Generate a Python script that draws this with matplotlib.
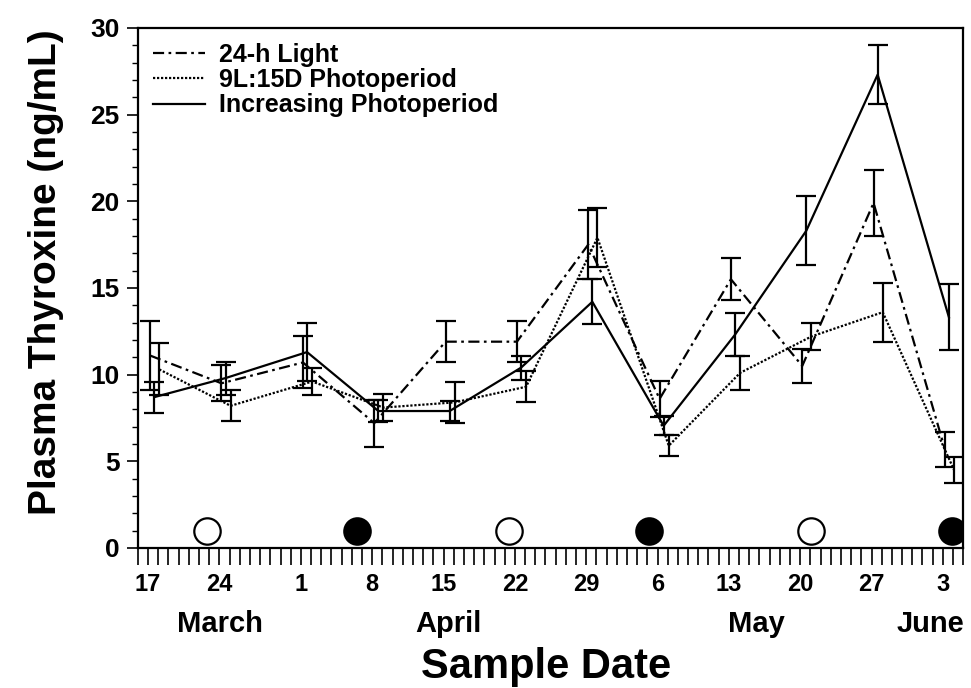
import numpy as np
import matplotlib
matplotlib.use("Agg")
import matplotlib.pyplot as plt
from matplotlib.ticker import MultipleLocator, FixedLocator
from matplotlib.transforms import blended_transform_factory

plt.rcParams['font.family'] = ['Liberation Sans', 'DejaVu Sans']
plt.rcParams['font.weight'] = 'bold'

# sample days counted from 17 March
days = [0, 7, 15, 22, 29, 36, 43, 50, 57, 64, 71, 78]
day_labels = ['17', '24', '1', '8', '15', '22', '29', '6', '13', '20', '27', '3']

light24 = [11.1, 9.5, 10.7, 7.2, 11.9, 11.9, 17.5, 8.6, 15.5, 10.5, 19.9, 5.7]
light24_se = [2.0, 1.05, 1.5, 1.35, 1.2, 1.2, 2.0, 1.05, 1.2, 1.0, 1.9, 1.0]

short_day = [10.3, 8.2, 9.6, 8.1, 8.4, 9.3, 17.9, 5.9, 10.1, 12.2, 13.6, 4.5]
short_day_se = [1.5, 0.9, 0.8, 0.8, 1.2, 0.9, 1.7, 0.6, 1.0, 0.8, 1.7, 0.75]

increasing = [8.7, 9.8, 11.3, 7.9, 7.9, 10.4, 14.2, 7.05, 12.3, 18.3, 27.3, 13.3]
increasing_se = [0.9, 0.95, 1.65, 0.65, 0.6, 0.7, 1.3, 0.55, 1.25, 2.0, 1.7, 1.9]

# lunar phase markers (open = full moon, filled = new moon)
full_moon = [5.8, 35.4, 65.1]
new_moon = [20.5, 49.2, 78.9]

months = ['March', 'April', 'May', 'June']
month_pos = [7.1, 29.5, 59.7, 76.8]

fig = plt.figure(figsize=(9.71, 6.88), dpi=100)
ax = fig.add_axes([0.142, 0.2035, 0.85, 0.756])

series = [
    (np.array(days) + 0.2, light24, light24_se, (0, (5, 2, 1.2, 2)), '24-h Light'),
    (np.array(days) + 1.1, short_day, short_day_se, (0, (1, 0.8)), '9L:15D Photoperiod'),
    (np.array(days) + 0.6, increasing, increasing_se, '-', 'Increasing Photoperiod'),
]

for x, y, e, ls, lab in series:
    ax.errorbar(x, y, yerr=e, fmt='none', ecolor='black', elinewidth=1.6,
                capsize=7, capthick=1.6, zorder=2)
    ax.plot(x, y, color='black', linestyle=ls, linewidth=1.6, label=lab, zorder=3)

ax.plot(full_moon, [1] * len(full_moon), 'o', ms=19, mfc='white', mec='black', mew=1.6,
        zorder=4)
ax.plot(new_moon, [1] * len(new_moon), 'o', ms=19, mfc='black', mec='black', mew=1.6,
        zorder=4)

ax.set_xlim(-1, 80)
ax.set_ylim(0, 30)

ax.xaxis.set_major_locator(FixedLocator(days))
ax.set_xticklabels(day_labels)
ax.xaxis.set_minor_locator(MultipleLocator(1))
ax.tick_params(axis='x', which='both', direction='out', length=12, width=1.2,
               labelsize=17, pad=6)
ax.yaxis.set_major_locator(MultipleLocator(5))
ax.yaxis.set_minor_locator(MultipleLocator(1))
ax.tick_params(axis='y', which='major', direction='out', length=8, width=1.2,
               labelsize=19, pad=5)
ax.tick_params(axis='y', which='minor', direction='out', length=4, width=1)

for sp in ax.spines.values():
    sp.set_linewidth(1.6)

trans = blended_transform_factory(ax.transData, ax.transAxes)
for m, p in zip(months, month_pos):
    ax.text(p, -0.161, m, transform=trans, ha='center', va='baseline',
            fontsize=21, fontweight='bold')

fig.text(0.562, 0.0145, 'Sample Date', ha='center', va='baseline',
         fontsize=30, fontweight='bold')
ax.set_ylabel('Plasma Thyroxine (ng/mL)', fontsize=28, fontweight='bold')
ax.yaxis.set_label_coords(-0.09, 0.53)

leg = ax.legend(loc='upper left', bbox_to_anchor=(0.0, 1.0), frameon=False,
                fontsize=18, handlelength=2.1, labelspacing=0.05, handletextpad=0.55,
                borderaxespad=0.2)
for t in leg.get_texts():
    t.set_fontweight('bold')

fig.savefig('out.png', dpi=100)
